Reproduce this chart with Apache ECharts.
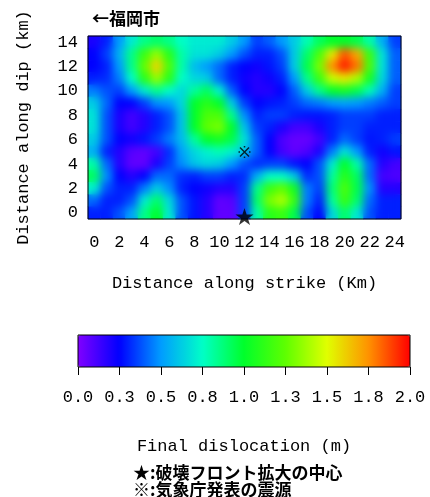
<!DOCTYPE html>
<html>
<head>
<meta charset="utf-8">
<script src="https://cdn.jsdelivr.net/npm/echarts@6/dist/echarts.min.js"></script>
<style>
  html, body { margin: 0; padding: 0; background: #fff; }
  #chart { width: 430px; height: 497px; }
</style>
</head>
<body>
<div id="chart"></div>
<script>
// strike positions (km), one cell per km
const strikeKm = ['0', '1', '2', '3', '4', '5', '6', '7', '8', '9', '10', '11', '12',
  '13', '14', '15', '16', '17', '18', '19', '20', '21', '22', '23', '24'];
// dip positions (km)
const dipKm = ['0', '1', '2', '3', '4', '5', '6', '7', '8', '9', '10', '11', '12', '13', '14'];

// final dislocation (m); first row is dip 14 km, last row is dip 0 km
const slip = [
  [0.20, 0.30, 0.50, 0.70, 0.85, 0.90, 0.85, 0.75, 0.70, 0.70, 0.70, 0.62, 0.50, 0.35, 0.40, 0.50, 0.62, 0.78, 0.92, 1.00, 1.00, 0.95, 0.80, 0.55, 0.35],
  [0.25, 0.35, 0.55, 0.85, 1.15, 1.35, 1.10, 0.80, 0.68, 0.68, 0.62, 0.50, 0.38, 0.30, 0.30, 0.38, 0.62, 0.90, 1.20, 1.55, 1.85, 1.70, 1.15, 0.68, 0.40],
  [0.25, 0.30, 0.50, 0.85, 1.25, 1.60, 1.20, 0.80, 0.58, 0.50, 0.42, 0.30, 0.25, 0.22, 0.28, 0.35, 0.62, 0.95, 1.30, 1.75, 1.95, 1.80, 1.20, 0.68, 0.40],
  [0.30, 0.32, 0.45, 0.75, 1.10, 1.35, 1.10, 0.75, 0.65, 0.62, 0.42, 0.30, 0.22, 0.18, 0.22, 0.30, 0.50, 0.85, 1.15, 1.45, 1.55, 1.40, 1.05, 0.65, 0.40],
  [0.45, 0.38, 0.35, 0.50, 0.70, 0.85, 0.75, 0.65, 0.82, 0.92, 0.72, 0.40, 0.25, 0.18, 0.18, 0.25, 0.40, 0.62, 0.85, 1.00, 1.05, 0.95, 0.78, 0.55, 0.35],
  [0.62, 0.42, 0.25, 0.25, 0.35, 0.48, 0.50, 0.65, 1.00, 1.10, 1.00, 0.62, 0.35, 0.25, 0.28, 0.30, 0.35, 0.42, 0.45, 0.50, 0.52, 0.50, 0.45, 0.40, 0.35],
  [0.68, 0.38, 0.20, 0.12, 0.18, 0.30, 0.38, 0.60, 1.00, 1.20, 1.20, 0.85, 0.48, 0.30, 0.35, 0.35, 0.30, 0.28, 0.28, 0.30, 0.35, 0.35, 0.35, 0.30, 0.30],
  [0.68, 0.38, 0.20, 0.12, 0.18, 0.30, 0.38, 0.60, 1.00, 1.25, 1.30, 1.00, 0.60, 0.35, 0.30, 0.20, 0.12, 0.12, 0.20, 0.30, 0.35, 0.35, 0.30, 0.30, 0.30],
  [0.62, 0.38, 0.25, 0.22, 0.28, 0.35, 0.45, 0.58, 0.82, 1.00, 1.05, 0.95, 0.68, 0.40, 0.25, 0.10, 0.05, 0.05, 0.12, 0.30, 0.42, 0.35, 0.28, 0.30, 0.35],
  [0.55, 0.30, 0.18, 0.08, 0.06, 0.12, 0.32, 0.52, 0.65, 0.72, 0.78, 0.72, 0.60, 0.40, 0.25, 0.12, 0.06, 0.10, 0.20, 0.45, 0.68, 0.50, 0.30, 0.22, 0.28],
  [0.80, 0.42, 0.18, 0.06, 0.06, 0.20, 0.35, 0.48, 0.60, 0.65, 0.62, 0.50, 0.38, 0.32, 0.35, 0.35, 0.28, 0.25, 0.38, 0.70, 1.00, 0.80, 0.42, 0.18, 0.12],
  [0.92, 0.48, 0.25, 0.18, 0.25, 0.42, 0.42, 0.32, 0.30, 0.35, 0.35, 0.30, 0.32, 0.55, 0.75, 0.75, 0.62, 0.32, 0.38, 0.82, 1.10, 0.92, 0.42, 0.12, 0.10],
  [0.72, 0.38, 0.30, 0.30, 0.45, 0.62, 0.48, 0.30, 0.25, 0.22, 0.18, 0.18, 0.35, 0.85, 1.15, 1.25, 1.05, 0.45, 0.35, 0.88, 1.20, 0.95, 0.48, 0.18, 0.18],
  [0.42, 0.30, 0.30, 0.38, 0.70, 0.90, 0.65, 0.38, 0.28, 0.18, 0.06, 0.08, 0.35, 0.90, 1.30, 1.40, 1.15, 0.45, 0.30, 0.82, 1.15, 0.90, 0.42, 0.30, 0.30],
  [0.30, 0.30, 0.38, 0.52, 0.85, 1.00, 0.70, 0.38, 0.28, 0.18, 0.06, 0.06, 0.35, 0.80, 1.10, 1.15, 0.95, 0.38, 0.25, 0.65, 0.90, 0.70, 0.38, 0.30, 0.30]
];

// markers: [strike km, dip km]
const ruptureCenter = [12, -0.35]; // ★
const jmaHypocenter = [12, 5];     // ※

const slipMin = 0;
const slipMax = 2;
const rainbow = ['#8000ff', '#0000ff', '#009cff', '#00ffc7', '#00ff2b',
  '#5eff00', '#e0ff00', '#ff9200', '#ff0000'];

var heatData = [];
slip.forEach(function (row, r) {
  var dipIdx = slip.length - 1 - r;
  row.forEach(function (v, c) {
    heatData.push([c, dipIdx, v]);
  });
});

var mono = 'Liberation Mono';
var cjk = 'Noto Sans CJK JP';
// ※ drawn as a path: an X with four dots
var komePath = 'path://M2 4L4 2L22 20L20 22Z M20 2L22 4L4 22L2 20Z' +
  ' M10.5 0L13.5 0L13.5 3L10.5 3Z M10.5 21L13.5 21L13.5 24L10.5 24Z' +
  ' M0 10.5L3 10.5L3 13.5L0 13.5Z M21 10.5L24 10.5L24 13.5L21 13.5Z';

var chart = echarts.init(document.getElementById('chart'));
var option = {
  animation: false,
  backgroundColor: '#fff',
  title: {
    text: '←福岡市',
    left: 87,
    top: 5,
    textStyle: { fontFamily: cjk, fontWeight: 'bold', fontSize: 17, color: '#000' }
  },
  grid: [
    { left: 88, top: 36, width: 313, height: 183, show: true, borderColor: '#000', borderWidth: 1, z: 10 },
    { left: 78, top: 335, width: 332, height: 32, show: true, borderColor: '#000', borderWidth: 1, z: 10 }
  ],
  xAxis: [
    {
      type: 'category', gridIndex: 0, data: strikeKm,
      axisLine: { show: false },
      axisTick: { interval: 1, alignWithLabel: true, length: 8, lineStyle: { color: '#000' } },
      axisLabel: { interval: 1, margin: 15, fontSize: 17, color: '#000', fontFamily: mono },
      splitLine: { show: false },
      name: 'Distance along strike (Km)', nameLocation: 'middle', nameGap: 56,
      nameTextStyle: { fontSize: 17, color: '#000', fontFamily: mono }
    },
    { type: 'value', gridIndex: 0, min: -0.5, max: 24.5, show: false },
    {
      type: 'value', gridIndex: 1, min: slipMin, max: slipMax, interval: 0.25,
      axisLine: { show: false },
      axisTick: { length: 8, lineStyle: { color: '#000' } },
      axisLabel: { margin: 22, fontSize: 17, color: '#000', fontFamily: mono,
        formatter: function (v) { return v.toFixed(1); } },
      splitLine: { show: false },
      name: 'Final dislocation (m)', nameLocation: 'middle', nameGap: 71,
      nameTextStyle: { fontSize: 17, color: '#000', fontFamily: mono }
    }
  ],
  yAxis: [
    {
      type: 'category', gridIndex: 0, data: dipKm,
      axisLine: { show: false },
      axisTick: { interval: 1, alignWithLabel: true, length: 9, lineStyle: { color: '#000' } },
      axisLabel: { interval: 1, margin: 10, fontSize: 17, color: '#000', fontFamily: mono },
      splitLine: { show: false },
      name: 'Distance along dip (km)', nameLocation: 'middle', nameGap: 56,
      nameTextStyle: { fontSize: 17, color: '#000', fontFamily: mono }
    },
    { type: 'value', gridIndex: 0, min: -0.5, max: 14.5, show: false },
    { type: 'value', gridIndex: 1, min: 0, max: 1, show: false }
  ],
  visualMap: {
    type: 'continuous',
    seriesIndex: [0, 1],
    min: slipMin,
    max: slipMax,
    orient: 'horizontal',
    left: 78,
    top: 335,
    itemWidth: 32,
    itemHeight: 332,
    padding: 0,
    calculable: false,
    hoverLink: false,
    inRange: { color: rainbow }
  },
  series: [
    {
      // sharp copy underneath, so the softened layer never fades to white at the border
      type: 'heatmap',
      xAxisIndex: 0,
      yAxisIndex: 0,
      data: heatData,
      itemStyle: { borderWidth: 0 }
    },
    {
      // same cells on their own layer, softened below
      type: 'heatmap',
      xAxisIndex: 0,
      yAxisIndex: 0,
      zlevel: 1,
      data: heatData,
      itemStyle: { borderWidth: 0 }
    },
    {
      type: 'scatter',
      xAxisIndex: 1,
      yAxisIndex: 1,
      zlevel: 2,
      itemStyle: { color: '#000' },
      data: [
        { value: ruptureCenter, symbol: 'circle', symbolSize: 1,
          itemStyle: { color: 'transparent' },
          label: { show: true, position: 'inside', formatter: '★', fontSize: 19,
            color: '#000', fontFamily: cjk, fontWeight: 'bold' } },
        { value: jmaHypocenter, symbol: komePath, symbolSize: 12 }
      ]
    }
  ],
  graphic: [
    {
      type: 'text', left: 133, top: 464,
      style: { text: '★:破壊フロント拡大の中心', fontFamily: cjk, fontWeight: 'bold', fontSize: 17, fill: '#000' }
    },
    {
      type: 'text', left: 133, top: 481,
      style: { text: '※:気象庁発表の震源', fontFamily: cjk, fontWeight: 'bold', fontSize: 17, fill: '#000' }
    }
  ]
};
chart.setOption(option);

// soften the cell layer so it reads like the smooth contour image
var soft = chart.getZr().painter.getLayer(1);
if (soft && soft.dom) {
  soft.dom.style.filter = 'blur(4px)';
  soft.dom.style.clipPath = 'inset(37px 30px 279px 89px)';
}
</script>
</body>
</html>
